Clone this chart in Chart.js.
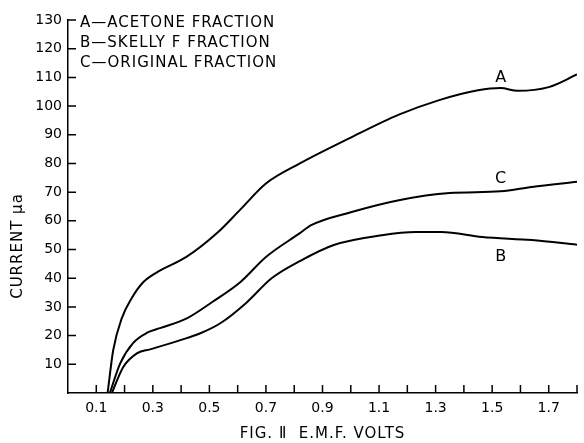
<!DOCTYPE html>
<html>
<head>
<meta charset="utf-8">
<script src="https://cdn.jsdelivr.net/npm/chart.js@4/dist/chart.umd.min.js"></script>
<style>
  html, body { margin: 0; padding: 0; background: #fff; }
</style>
</head>
<body>
<canvas id="chart" width="584" height="443"></canvas>
<script>
// curve A - acetone fraction
const voltsA = [0.14, 0.16, 0.19, 0.225, 0.265, 0.31, 0.42, 0.53, 0.61, 0.70, 0.82, 1.0, 1.17, 1.31, 1.45, 1.53, 1.59, 1.70, 1.80];
const currentA = [0, 15, 26, 33, 38.5, 41.8, 47.5, 56, 64, 73, 80, 89, 97, 102, 105.5, 106.3, 105.3, 106.6, 111];

// curve B - skelly F fraction
const voltsB = [0.155, 0.195, 0.245, 0.29, 0.40, 0.47, 0.54, 0.63, 0.72, 0.82, 0.94, 1.11, 1.23, 1.32, 1.465, 1.64, 1.80];
const currentB = [0, 9, 13.9, 15.2, 18.5, 20.9, 24.4, 31.4, 40, 46, 51.6, 55, 56.1, 56.1, 54.4, 53.3, 51.7];

// curve C - original fraction
const voltsC = [0.148, 0.185, 0.23, 0.28, 0.325, 0.42, 0.51, 0.61, 0.70, 0.82, 0.86, 1.0, 1.17, 1.35, 1.53, 1.64, 1.80];
const currentC = [0, 10.4, 17.4, 21, 22.6, 26, 31.7, 38.7, 47.4, 55.7, 58.5, 63, 67.2, 69.7, 70.3, 71.8, 73.6];

// tick marks along the axes
const xTickValues = [0.1, 0.2, 0.3, 0.4, 0.5, 0.6, 0.7, 0.8, 0.9, 1.0, 1.1, 1.2, 1.3, 1.4, 1.5, 1.6, 1.7, 1.8];
const yTickValues = [10, 20, 30, 40, 50, 60, 70, 80, 90, 100, 110, 120, 130];

const legendLines = ["A\u2014ACETONE FRACTION", "B\u2014SKELLY F FRACTION", "C\u2014ORIGINAL FRACTION"];
const curveNames = ["A", "B", "C"];
const curveLabelX = [1.53, 1.53, 1.53];
const curveLabelY = [109.8, 47.5, 74.5];

const xTitle = "FIG. \u2161  E.M.F. VOLTS";
const yTitle = "CURRENT \u03bca";

const FONT = "DejaVu Sans";

function toPoints(xs, ys) {
    return xs.map((x, i) => ({ x: x, y: ys[i] }));
}

function makeSet(label, xs, ys) {
    return {
        label: label,
        data: toPoints(xs, ys),
        borderColor: "#000",
        borderWidth: 2,
        pointRadius: 0,
        fill: false,
        cubicInterpolationMode: "monotone"
    };
}

// inward ticks, legend block, curve letters and axis titles
const paperPlugin = {
    id: "paper",
    afterDraw(chart) {
        const ctx = chart.ctx;
        const xs = chart.scales.x;
        const ys = chart.scales.y;
        const area = chart.chartArea;
        ctx.save();
        ctx.strokeStyle = "#000";
        ctx.lineWidth = 1.5;
        ctx.beginPath();
        xTickValues.forEach(v => {
            const px = xs.getPixelForValue(v);
            ctx.moveTo(px, area.bottom);
            ctx.lineTo(px, area.bottom - 8);
        });
        yTickValues.forEach(v => {
            const py = ys.getPixelForValue(v);
            ctx.moveTo(area.left, py);
            ctx.lineTo(area.left + 8, py);
        });
        ctx.stroke();

        ctx.fillStyle = "#000";
        ctx.font = "15px '" + FONT + "'";
        ctx.textBaseline = "middle";
        ctx.textAlign = "left";
        ctx.letterSpacing = "1px";
        legendLines.forEach((txt, i) => {
            ctx.fillText(txt, 80, 23 + i * 20);
        });

        ctx.font = "16px '" + FONT + "'";
        ctx.textAlign = "center";
        ctx.letterSpacing = "0px";
        curveNames.forEach((name, i) => {
            ctx.fillText(name, xs.getPixelForValue(curveLabelX[i]), ys.getPixelForValue(curveLabelY[i]));
        });

        ctx.font = "15px '" + FONT + "'";
        ctx.letterSpacing = "1px";
        ctx.fillText(xTitle, (area.left + area.right) / 2, 434);

        ctx.translate(18, 246);
        ctx.rotate(-Math.PI / 2);
        ctx.fillText(yTitle, 0, 0);
        ctx.restore();
    }
};

new Chart(document.getElementById("chart"), {
    type: "line",
    data: {
        datasets: [
            makeSet("A", voltsA, currentA),
            makeSet("B", voltsB, currentB),
            makeSet("C", voltsC, currentC)
        ]
    },
    options: {
        responsive: false,
        animation: false,
        layout: { padding: { left: 0, top: 20, right: 6, bottom: 0 } },
        plugins: {
            legend: { display: false },
            tooltip: { enabled: false }
        },
        scales: {
            x: {
                type: "linear",
                min: 0,
                max: 1.8,
                afterFit: function (scale) { scale.height = 50; },
                grid: { display: false, tickLength: 0 },
                border: { display: true, color: "#000", width: 1.5 },
                ticks: {
                    stepSize: 0.1,
                    autoSkip: false,
                    maxRotation: 0,
                    padding: 7,
                    color: "#000",
                    font: { family: FONT, size: 14 },
                    callback: function (value) {
                        const n = Math.round(value * 10);
                        return n % 2 === 1 ? (n / 10).toFixed(1) : "";
                    }
                }
            },
            y: {
                min: 0,
                max: 130,
                afterFit: function (scale) { scale.width = 68; },
                grid: { display: false, tickLength: 0 },
                border: { display: true, color: "#000", width: 1.5 },
                ticks: {
                    stepSize: 10,
                    padding: 6,
                    color: "#000",
                    font: { family: FONT, size: 14 },
                    callback: function (value) {
                        return value === 0 ? "" : value;
                    }
                }
            }
        }
    },
    plugins: [paperPlugin]
});
</script>
</body>
</html>
